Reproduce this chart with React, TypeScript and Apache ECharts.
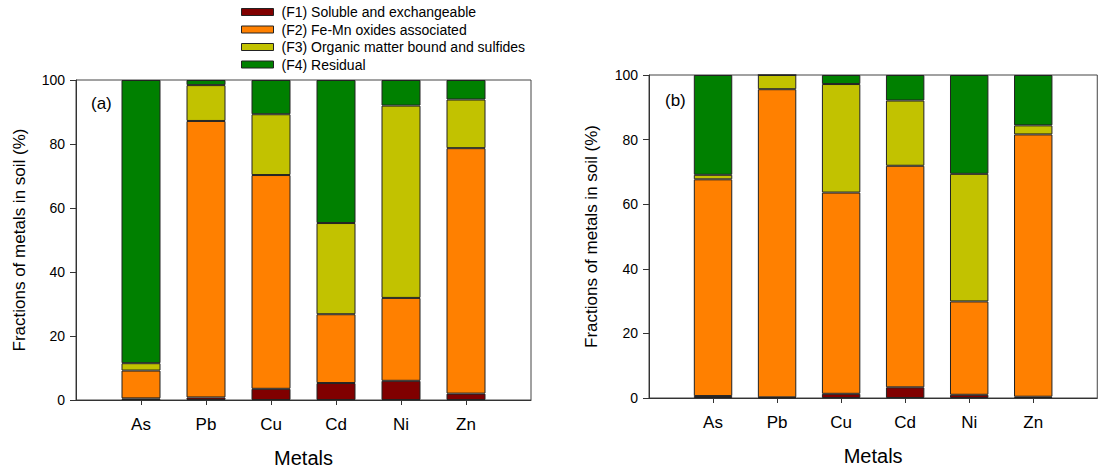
import React, { useEffect, useRef } from "react";
import * as echarts from "echarts";

const categories = ["As", "Pb", "Cu", "Cd", "Ni", "Zn"];
const seriesNames = [
  "(F1) Soluble and exchangeable",
  "(F2) Fe-Mn oxides associated",
  "(F3) Organic matter bound and sulfides",
  "(F4) Residual",
];
const seriesColors = ["#800000", "#ff8000", "#c2c200", "#008000"];
const yTicks = [0, 20, 40, 60, 80, 100];

// Panel (a)
const f1A = [0.5, 0.8, 3.5, 5.3, 6.0, 2.0];
const f2A = [8.7, 86.4, 66.8, 21.5, 25.9, 76.7];
const f3A = [2.3, 11.2, 19.0, 28.5, 60.1, 15.2];
const f4A = [88.5, 1.6, 10.7, 44.7, 8.0, 6.1];

// Panel (b)
const f1B = [0.6, 0.2, 1.3, 3.3, 1.0, 0.4];
const f2B = [67.1, 95.4, 62.3, 68.6, 28.9, 81.2];
const f3B = [1.4, 4.4, 33.6, 20.2, 39.5, 2.8];
const f4B = [30.9, 0.0, 2.8, 7.9, 30.6, 15.6];

const FONT = "Arial, 'Liberation Sans', sans-serif";

export default function App() {
  const ref = useRef<HTMLDivElement>(null);

  useEffect(() => {
    if (!ref.current) return;
    const chart = echarts.init(ref.current, undefined, { renderer: "svg" });
    const axisCats = [" ", ...categories, "  "];
    const pad = (arr: number[]) => ["-", ...arr, "-"];
    const panelA = [f1A, f2A, f3A, f4A];
    const panelB = [f1B, f2B, f3B, f4B];

    const makeX = (gridIndex: number) => ({
      type: "category",
      gridIndex,
      data: axisCats,
      boundaryGap: false,
      name: "Metals",
      nameLocation: "middle",
      nameGap: 48,
      nameTextStyle: { fontSize: 20, color: "#000", fontFamily: FONT },
      axisLine: { show: true, lineStyle: { color: "#333", width: 1 } },
      axisTick: {
        show: true,
        length: 5,
        inside: false,
        interval: (idx: number) => idx > 0 && idx < axisCats.length - 1,
        lineStyle: { color: "#333" },
      },
      axisLabel: {
        fontSize: 17,
        color: "#000",
        fontFamily: FONT,
        margin: 16,
        interval: 0,
      },
      splitLine: { show: false },
    });

    const makeY = (gridIndex: number, gap: number) => ({
      type: "value",
      gridIndex,
      min: yTicks[0],
      max: yTicks[yTicks.length - 1],
      interval: 20,
      name: "Fractions of metals in soil (%)",
      nameLocation: "middle",
      nameGap: gap,
      nameTextStyle: { fontSize: 17, color: "#000", fontFamily: FONT },
      axisLine: { show: true, lineStyle: { color: "#333", width: 1 } },
      axisTick: { show: true, length: 6, inside: false, lineStyle: { color: "#333" } },
      axisLabel: { fontSize: 14, color: "#000", fontFamily: FONT, margin: 11 },
      splitLine: { show: false },
    });

    const series: any[] = [];
    [panelA, panelB].forEach((panel, p) => {
      panel.forEach((vals, i) => {
        series.push({
          type: "bar",
          name: seriesNames[i],
          stack: p === 0 ? "a" : "b",
          xAxisIndex: p,
          yAxisIndex: p,
          barWidth: "60%",
          data: pad(vals),
          itemStyle: {
            color: seriesColors[i],
            borderColor: "#222",
            borderWidth: 1,
          },
        });
      });
    });

    chart.setOption({
      animation: false,
      backgroundColor: "#fff",
      textStyle: { fontFamily: FONT },
      legend: {
        orient: "vertical",
        left: 241,
        top: 5,
        padding: 0,
        itemWidth: 32,
        itemHeight: 7,
        itemGap: 3.5,
        icon: "rect",
        data: seriesNames,
        textStyle: {
          fontSize: 14,
          color: "#000",
          fontFamily: FONT,
          padding: [0, 0, 0, 3],
        },
        itemStyle: { borderColor: "#222", borderWidth: 1 },
      },
      grid: [
        {
          left: 76,
          right: 574,
          top: 80,
          bottom: 70,
          show: true,
          borderColor: "#444",
          borderWidth: 1,
          containLabel: false,
        },
        {
          left: 649,
          right: 1,
          top: 75,
          bottom: 75,
          show: true,
          borderColor: "#444",
          borderWidth: 1,
          containLabel: false,
        },
      ],
      xAxis: [makeX(0), makeX(1)],
      yAxis: [makeY(0, 48), makeY(1, 49)],
      graphic: [
        {
          type: "text",
          left: 91,
          top: 95,
          style: { text: "(a)", fontSize: 17, fill: "#000", fontFamily: FONT },
        },
        {
          type: "text",
          left: 665,
          top: 92,
          style: { text: "(b)", fontSize: 17, fill: "#000", fontFamily: FONT },
        },
      ],
      series,
    });

    return () => chart.dispose();
  }, []);

  return (
    <div
      ref={ref}
      style={{ position: "fixed", left: 0, top: 0, width: 1105, height: 473 }}
    />
  );
}
